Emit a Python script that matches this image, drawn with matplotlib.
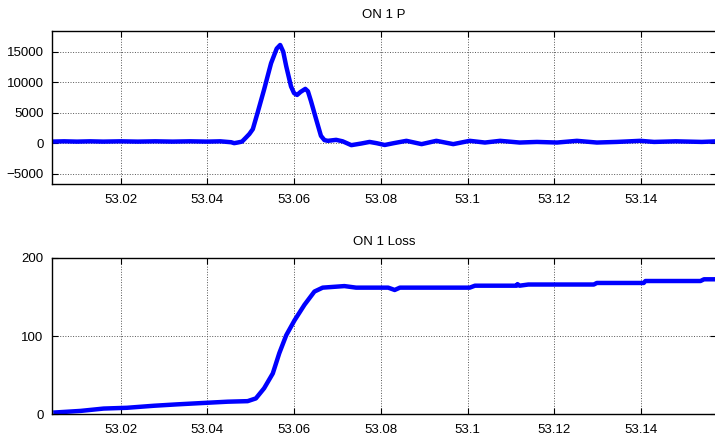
import matplotlib

matplotlib.use("Agg")
import matplotlib.pyplot as plt

# Signal "ON 1 P".
p_time = [
    53.0040, 53.0070, 53.0100, 53.0130, 53.0160, 53.0200, 53.0240, 53.0280,
    53.0320, 53.0360, 53.0400, 53.0430, 53.0455, 53.0462, 53.0470, 53.0480,
    53.0489, 53.0497, 53.0505, 53.0516, 53.0531, 53.0547, 53.0560, 53.0568,
    53.0575, 53.0582, 53.0593, 53.0600, 53.0607, 53.0615, 53.0626, 53.0632,
    53.0639, 53.0651, 53.0662, 53.0670, 53.0678, 53.0697, 53.0712, 53.0732,
    53.0755, 53.0774, 53.0790, 53.0809, 53.0830, 53.0859, 53.0894, 53.0928,
    53.0967, 53.1005, 53.1040, 53.1075, 53.1120, 53.1160, 53.1206, 53.1252,
    53.1298, 53.1344, 53.1398, 53.1430, 53.1480, 53.1540, 53.1575,
]
p_values = [
    250, 300, 250, 300, 250, 300, 250, 300,
    250, 300, 250, 300, 150, 0, 100, 250,
    900, 1500, 2300, 5000, 8800, 13100, 15500, 16100,
    15000, 12600, 9300, 8200, 7900, 8400, 8900, 8500,
    6900, 3900, 1200, 500, 380, 540, 300, -330,
    -60, 200, 0, -300, 0, 380, -160, 380,
    -160, 380, 100, 380, 100, 200, 100, 380,
    100, 200, 380, 200, 300, 200, 300,
]

# Signal "ON 1 Loss".
loss_time = [
    53.0050, 53.0108, 53.0161, 53.0215, 53.0277, 53.0331, 53.0385, 53.0447,
    53.0493, 53.0512, 53.0531, 53.0551, 53.0566, 53.0582, 53.0601, 53.0624,
    53.0647, 53.0666, 53.0716, 53.0743, 53.0817, 53.0832, 53.0844, 53.1005,
    53.1017, 53.1113, 53.1115, 53.1120, 53.1140, 53.1291, 53.1298, 53.1406,
    53.1410, 53.1537, 53.1545, 53.1575,
]
loss_values = [
    2, 4, 7, 8, 10.6, 12.4, 14, 15.8,
    16.5, 20, 33, 52, 78, 101, 120, 140,
    157, 162, 164, 162, 162, 159, 162, 162,
    164.5, 164.5, 166.5, 164.5, 166, 166, 168, 168,
    170.5, 170.5, 172.7, 172.7,
]

x_ticks = [53.02, 53.04, 53.06, 53.08, 53.10, 53.12, 53.14]
x_tick_labels = ["53.02", "53.04", "53.06", "53.08", "53.1", "53.12", "53.14"]
p_ticks = [-5000, 0, 5000, 10000, 15000]
loss_ticks = [0, 100, 200]

plt.rcParams["font.family"] = ["Liberation Sans", "DejaVu Sans"]
plt.rcParams["font.size"] = 9.5

fig = plt.figure(figsize=(7.15, 4.42), dpi=100)
ax_p = fig.add_axes([0.0727, 0.5837, 0.9283, 0.3463])
ax_l = fig.add_axes([0.0727, 0.0633, 0.9283, 0.3530])

panels = [
    (ax_p, p_time, p_values, "ON 1 P", (-6700, 18400), p_ticks),
    (ax_l, loss_time, loss_values, "ON 1 Loss", (0, 200), loss_ticks),
]
for ax, t, v, title, ylim, yticks in panels:
    ax.plot(t, v, color="#0000ff", lw=3.2, solid_joinstyle="round")
    ax.set_xlim(53.0042, 53.1572)
    ax.set_ylim(*ylim)
    ax.set_xticks(x_ticks)
    ax.set_xticklabels(x_tick_labels)
    ax.set_yticks(yticks)
    ax.set_title(title, fontsize=9.5, pad=9)
    ax.grid(True, color="#555555", ls=":", lw=0.7)
    ax.tick_params(direction="in", top=True, right=True, length=4, width=0.8,
                   labelsize=9.5)
    ax.tick_params(axis="x", pad=7)
    ax.tick_params(axis="y", pad=6)
    for spine in ax.spines.values():
        spine.set_linewidth(1.0)

fig.savefig("out.png", dpi=100)
